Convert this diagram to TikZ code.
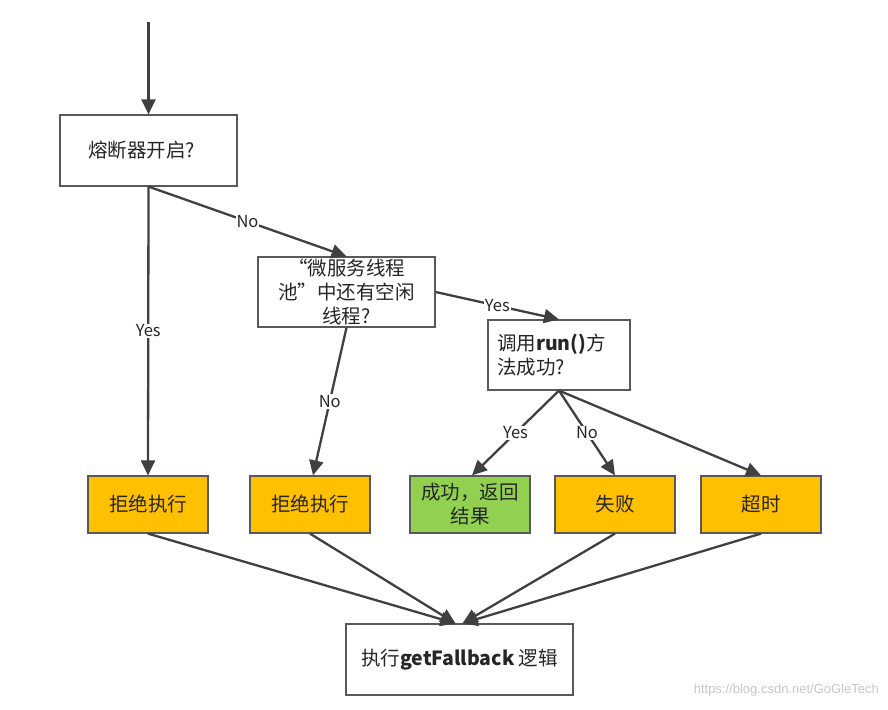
\documentclass[tikz,border=0pt]{standalone}
\usepackage{fontspec}
\setmainfont{Noto Sans CJK SC}
\newfontfamily\wmfont{Liberation Sans}
\usetikzlibrary{arrows.meta}
\definecolor{boxorange}{HTML}{FFC000}
\definecolor{boxgreen}{HTML}{92D050}
\definecolor{linegray}{HTML}{404040}
\definecolor{edgegray}{HTML}{595959}
\tikzset{
  box/.style={draw=edgegray, line width=1.2pt, rectangle, inner sep=2pt, font=\fontsize{19.5}{24}\selectfont, text=black!85},
  orangebox/.style={box, fill=boxorange, minimum width=120pt, minimum height=57pt},
  greenbox/.style={box, fill=boxgreen, minimum width=120pt, minimum height=57pt},
  conn/.style={draw=linegray, line width=2.3pt, -{Triangle[length=15pt,width=14pt]}},
  lbl/.style={fill=white, inner sep=1pt, font=\fontsize{16.5}{18}\selectfont, text=black!85}
}
\begin{document}
\begin{tikzpicture}[x=1pt,y=-1pt]
\useasboundingbox (0,0) rectangle (888,709);
\fill[white] (0,0) rectangle (888,709);
\node[box, minimum width=177pt, minimum height=71pt, inner xsep=28pt, text width=121pt, align=left] (A) at (148.5,150.5) {熔断器开启?};
\node[box, minimum width=177pt, minimum height=70pt, align=center] (B) at (346.5,292) {“微服务线程\\池”中还有空闲\\线程?};
\node[box, minimum width=142pt, minimum height=70pt, inner xsep=9pt, text width=124pt, align=left] (C) at (559,355) {调用\textbf{run()}方\\法成功?};
\node[orangebox] (R1) at (148,504.5) {拒绝执行};
\node[orangebox] (R2) at (310,504.5) {拒绝执行};
\node[greenbox, align=center] (S) at (470,504.5) {成功，返回\\结果};
\node[orangebox] (F) at (615,504.5) {失败};
\node[orangebox] (T) at (761,504.5) {超时};
\node[box, minimum width=227pt, minimum height=71pt] (G) at (459.5,659.5) {执行\textbf{getFallback} 逻辑};
\coordinate (start) at (148.5,22);
\draw[conn] (start) -- (A.north);
\draw[conn] (A.south) -- node[lbl,pos=0.5] {Yes} (R1.north);
\draw[conn] (A.south) -- node[lbl,pos=0.5] {No} (B.north);
\draw[conn] (B.south) -- node[lbl,pos=0.5] {No} ([xshift=3pt]R2.north);
\draw[conn] (B.east) -- node[lbl,pos=0.5] {Yes} (C.north);
\draw[conn] (C.south) -- node[lbl,pos=0.5] {Yes} ([xshift=2pt]S.north);
\draw[conn] (C.south) -- node[lbl,pos=0.5] {No} (F.north);
\draw[conn] (C.south) -- (T.north);
\draw[conn] (R1.south) -- ([xshift=-4pt]G.north);
\draw[conn] (R2.south) -- ([xshift=-4pt]G.north);
\draw[conn] (F.south) -- ([xshift=3pt]G.north);
\draw[conn] (T.south) -- ([xshift=3pt]G.north);
\node[anchor=east, inner sep=0pt, text=black!22, font=\wmfont\fontsize{13}{15}\selectfont] (wm) at (879,690) {https://blog.csdn.net/GoGleTech};
\end{tikzpicture}
\end{document}
